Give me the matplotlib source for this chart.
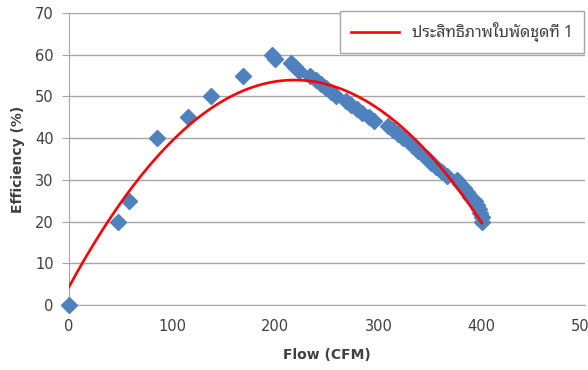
import matplotlib
matplotlib.use("Agg")
import numpy as np
import matplotlib.pyplot as plt

flow = [0, 47, 58, 85, 115, 138, 169, 197, 200, 215, 219, 223, 234, 239, 244,
        249, 254, 259, 268, 273, 279, 284, 291, 296, 309, 314, 319, 324, 329,
        333, 338, 343, 348, 351, 356, 361, 366, 376, 379, 383, 386, 389, 393,
        395, 397, 398, 400, 400]
eff = [0, 20, 25, 40, 45, 50, 55, 60, 59, 58, 57, 56, 55, 54, 53,
       52, 51, 50, 49, 48, 47, 46, 45, 44, 43, 42, 41, 40, 39,
       38, 37, 36, 35, 34, 33, 32, 31, 30, 29, 28, 27, 26, 25,
       24, 23, 22, 21, 20]
legend_label = "ประสิทธิภาพใบพัดชุดที่ 1"

plt.rcParams["font.family"] = ["DejaVu Sans"]
text_color = "#404040"

fig = plt.figure(figsize=(5.88, 3.7), dpi=100)
ax = fig.add_axes([69 / 588, 1 - 305 / 370, 516 / 588, 292 / 370])

ax.plot(flow, eff, linestyle="none", marker="D", markersize=8.5,
        color="#4F81BD", zorder=3, clip_on=False)

# polynomial trend line (order 2), like the spreadsheet's trendline
coef = np.polyfit(flow, eff, 2)
xs = np.linspace(0, 400, 200)
ax.plot(xs, np.polyval(coef, xs), color="#FF0000", linewidth=1.9,
        label=legend_label, zorder=4)

ax.set_xlim(0, 500)
ax.set_ylim(0, 70)
ax.set_xticks(range(0, 501, 100))
ax.set_yticks(range(0, 71, 10))
ax.yaxis.grid(True, color="#A6A6A6", linewidth=1)
ax.set_axisbelow(True)
for side in ["top", "right"]:
    ax.spines[side].set_visible(False)
for side in ["left", "bottom"]:
    ax.spines[side].set_color("#A6A6A6")
ax.tick_params(axis="y", length=5, color="#A6A6A6", labelsize=10.5,
               labelcolor=text_color, pad=6)
ax.tick_params(axis="x", length=0, labelsize=10.5, labelcolor=text_color, pad=10)

ax.set_xlabel("Flow (CFM)", fontsize=10, fontweight="bold", color=text_color,
              labelpad=10)
ax.set_ylabel("Efficiency (%)", fontsize=10, fontweight="bold", color=text_color,
              labelpad=7)

leg = fig.legend(loc="upper left", bbox_to_anchor=(340 / 588, 1 - 11 / 370),
                 fancybox=False, framealpha=1, edgecolor="#A6A6A6",
                 handlelength=3.0, borderpad=0.7, borderaxespad=0,
                 prop={"family": ["Noto Sans Thai Looped", "DejaVu Sans"],
                       "size": 11.5})
for t in leg.get_texts():
    t.set_color(text_color)

fig.savefig("out.png")
